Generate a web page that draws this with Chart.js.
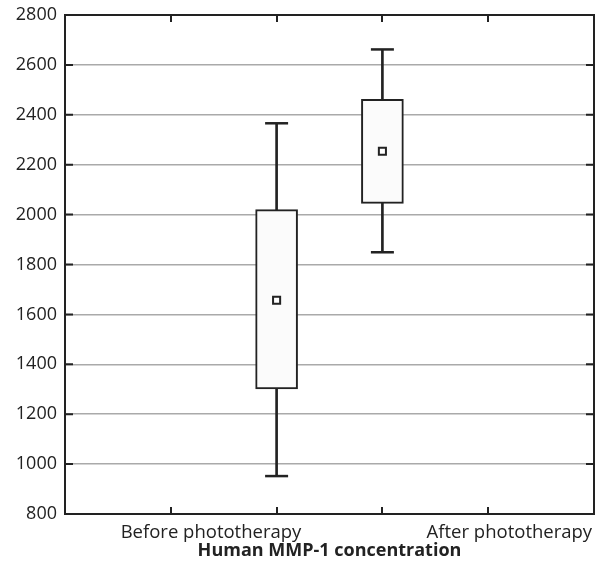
<!DOCTYPE html>
<html>
<head>
<meta charset="utf-8">
<script src="https://cdn.jsdelivr.net/npm/chart.js@4"></script>
<style>
  html, body { margin: 0; padding: 0; background: #fff; overflow: hidden; }
  #wrap { position: relative; width: 601px; height: 567px; }
</style>
</head>
<body>
<div id="wrap"><canvas id="myChart"></canvas></div>
<script>
// Human MMP-1 concentration
const groups = ["Before phototherapy", "After phototherapy"];
const groupX = [2, 3];            // box centres on the 0..5 x scale
const labelAt = [1.38, 4.2];      // where the original put the group names
const whiskerLow = [952, 1849];
const boxLow = [1301, 2045];
const boxHigh = [2020, 2462];
const whiskerHigh = [2366, 2662];
const means = [1657, 2254];
const yTicks = [800, 1000, 1200, 1400, 1600, 1800, 2000, 2200, 2400, 2600, 2800];
const xTickMarks = [1, 2, 3, 4];

const ink = "#222";
const font = { family: "'Open Sans', sans-serif", size: 18 };

// short inward tick marks on all four sides of the frame
const innerTicks = {
  id: "innerTicks",
  afterDatasetsDraw(chart) {
    const { ctx, chartArea: a, scales } = chart;
    ctx.save();
    ctx.strokeStyle = ink;
    ctx.lineWidth = 2;
    ctx.beginPath();
    xTickMarks.forEach((v) => {
      const px = Math.round(scales.x.getPixelForValue(v));
      ctx.moveTo(px, a.bottom); ctx.lineTo(px, a.bottom - 7);
      ctx.moveTo(px, a.top); ctx.lineTo(px, a.top + 7);
    });
    yTicks.forEach((v) => {
      const py = scales.y.getPixelForValue(v);
      ctx.moveTo(a.left, py); ctx.lineTo(a.left + 8, py);
      ctx.moveTo(a.right, py); ctx.lineTo(a.right - 8, py);
    });
    ctx.stroke();
    ctx.restore();
  },
};

const ctx = document.getElementById("myChart").getContext("2d");
const myChart = new Chart(ctx, {
  data: {
    datasets: [
      {
        type: "bar",
        label: "whisker",
        order: 3,
        grouped: false,
        data: groupX.map((x, i) => ({ x, y: [whiskerLow[i], whiskerHigh[i]] })),
        backgroundColor: ink,
        barThickness: 2,
      },
      {
        type: "bar",
        label: "box",
        order: 2,
        grouped: false,
        data: groupX.map((x, i) => ({ x, y: [boxLow[i], boxHigh[i]] })),
        backgroundColor: "#fbfbfb",
        borderColor: ink,
        borderWidth: 2,
        borderSkipped: false,
        barThickness: 42,
      },
      {
        type: "scatter",
        label: "caps",
        order: 1,
        data: groupX.flatMap((x, i) => [
          { x, y: whiskerLow[i] },
          { x, y: whiskerHigh[i] },
        ]),
        pointStyle: "line",
        pointRadius: 11.5,
        pointHoverRadius: 11.5,
        borderColor: ink,
        borderWidth: 2.5,
      },
      {
        type: "scatter",
        label: "mean",
        order: 0,
        data: groupX.map((x, i) => ({ x, y: means[i] })),
        pointStyle: "rect",
        pointRadius: 5,
        pointHoverRadius: 5,
        backgroundColor: "#fff",
        borderColor: ink,
        borderWidth: 2,
      },
    ],
  },
  options: {
    responsive: true,
    maintainAspectRatio: false,
    animation: false,
    layout: { autoPadding: false, padding: { top: 15, right: 7, bottom: 0, left: 0 } },
    plugins: { legend: { display: false }, tooltip: { enabled: false } },
    scales: {
      x: {
        type: "linear",
        position: "bottom",
        offset: false,
        min: 0,
        max: 5,
        grid: { display: false },
        border: { color: ink, width: 2 },
        afterBuildTicks: (scale) => {
          scale.ticks = labelAt.map((v) => ({ value: v }));
        },
        afterFit: (scale) => {
          scale.height = 53;
          scale.paddingLeft = 0;
          scale.paddingRight = 0;
        },
        ticks: {
          autoSkip: false,
          maxRotation: 0,
          padding: 0,
          color: ink,
          font: { ...font, size: 18.5 },
          callback: (v) => groups[labelAt.indexOf(v)],
        },
        title: {
          display: true,
          text: "Human MMP-1 concentration",
          color: ink,
          font: { ...font, weight: "bold" },
          padding: { top: 0, bottom: 5 },
        },
      },
      xTop: {
        type: "linear",
        position: "top",
        offset: false,
        min: 0,
        max: 5,
        grid: { display: false, drawTicks: false },
        ticks: { display: false },
        border: { color: ink, width: 2 },
        afterFit: (scale) => {
          scale.height = 0;
          scale.paddingLeft = 0;
          scale.paddingRight = 0;
        },
      },
      y: {
        min: 800,
        max: 2800,
        afterBuildTicks: (scale) => {
          scale.ticks = yTicks.map((v) => ({ value: v }));
        },
        afterFit: (scale) => {
          scale.width = 65;
          scale.paddingTop = 0;
          scale.paddingBottom = 0;
        },
        grid: { color: "#aaa", lineWidth: 1.5, drawTicks: false },
        border: { color: ink, width: 2 },
        ticks: { color: ink, font, padding: 8, callback: (v) => String(v) },
      },
      yRight: {
        position: "right",
        min: 800,
        max: 2800,
        grid: { display: false, drawTicks: false },
        ticks: { display: false },
        border: { color: ink, width: 2 },
        afterFit: (scale) => {
          scale.width = 0;
          scale.paddingTop = 0;
          scale.paddingBottom = 0;
        },
      },
    },
  },
  plugins: [innerTicks],
});
</script>
</body>
</html>
